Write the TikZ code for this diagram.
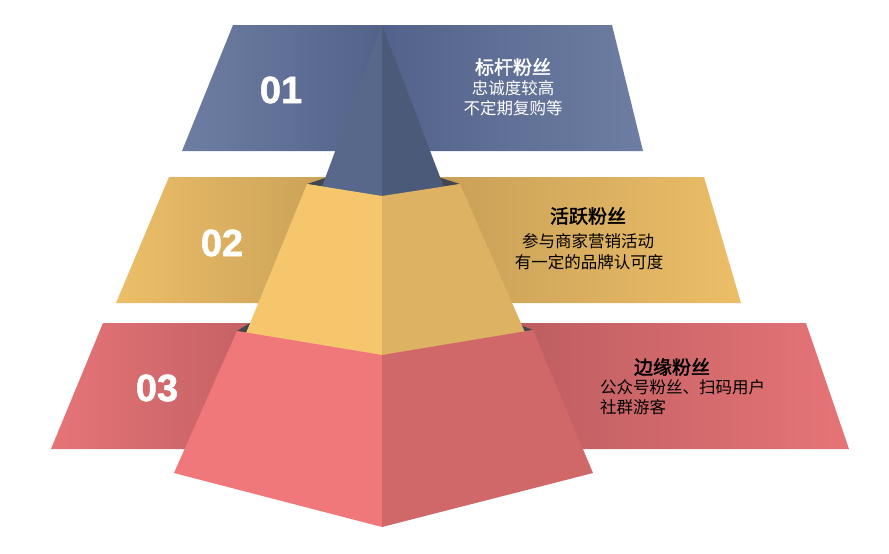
\documentclass[tikz,border=0pt]{standalone}
\usepackage{fontspec}
\newfontfamily\cjk{Noto Sans CJK SC}[AutoFakeBold=2]
\newfontfamily\numfont{Liberation Sans}[BoldFeatures={FakeBold=1.5}]
\definecolor{blueL}{HTML}{6E7EA2}
\definecolor{blueD}{HTML}{52628A}
\definecolor{pyrL}{HTML}{57688B}
\definecolor{pyrR}{HTML}{4B5A79}
\definecolor{yelL}{HTML}{ECBE68}
\definecolor{yelD}{HTML}{C19A54}
\definecolor{fyL}{HTML}{F6C66D}
\definecolor{fyR}{HTML}{DDB262}
\definecolor{redL}{HTML}{E67477}
\definecolor{redD}{HTML}{AD5558}
\definecolor{frL}{HTML}{F0777A}
\definecolor{frR}{HTML}{D06768}
\definecolor{holeC}{HTML}{42464F}
\tikzset{
  num/.style={font=\numfont\bfseries\fontsize{38}{40}\selectfont, text=white, inner sep=0pt},
  ttl/.style={font=\cjk\bfseries\fontsize{19}{22}\selectfont, inner sep=0pt},
  body/.style={font=\cjk\fontsize{16.5}{20}\selectfont, inner sep=0pt},
}
\begin{document}
\begin{tikzpicture}[x=1pt,y=-1pt]
\useasboundingbox (0,0) rectangle (889,554);
\fill[white] (0,0) rectangle (889,554);
% bands
\shade[left color=blueL, right color=blueD] (233,25) -- (382,25) -- (382,151) -- (182,151) -- cycle;
\shade[left color=blueD, right color=blueL] (382,25) -- (612,25) -- (643,151) -- (382,151) -- cycle;
\shade[left color=yelL, right color=yelD] (169,177) -- (382,177) -- (382,303) -- (116,303) -- cycle;
\shade[left color=yelD, right color=yelL] (382,177) -- (704,177) -- (741,303) -- (382,303) -- cycle;
\shade[left color=redL, right color=redD] (103,323) -- (382,323) -- (382,449) -- (51,449) -- cycle;
\shade[left color=redD, right color=redL] (382,323) -- (806,323) -- (849,449) -- (382,449) -- cycle;
% yellow opening
\fill[holeC] (307,184) -- (328,177) -- (438,177) -- (460,184) -- (382,196) -- cycle;
% blue pyramid
\fill[pyrL] (382,25) -- (320,192) -- (382,200) -- cycle;
\fill[pyrR] (382,25) -- (445,190) -- (382,200) -- cycle;
% red opening
\fill[holeC] (237,331) -- (250,323) -- (515,323) -- (533,330) -- (382,355) -- cycle;
% yellow frustum
\fill[fyL] (307,184) -- (382,196) -- (382,360) -- (244,338) -- cycle;
\fill[fyR] (382,196) -- (460,184) -- (527,337) -- (382,360) -- cycle;
% red frustum
\fill[frL] (237,331) -- (382,355) -- (382,527) -- (174,473) -- cycle;
\fill[frR] (382,355) -- (533,330) -- (593,473) -- (382,527) -- cycle;
% numbers
\node[num] (n1) at (281,90) {01};
\node[num] (n2) at (222,243) {02};
\node[num] (n3) at (157,388) {03};
% texts
\node[ttl, text=white] (a1) at (513,67) {标杆粉丝};
\node[body, text=white] (a2) at (513,88) {忠诚度较高};
\node[body, text=white] (a3) at (513,108) {不定期复购等};
\node[ttl] (b1) at (588,216) {活跃粉丝};
\node[body] (b2) at (588,241) {参与商家营销活动};
\node[body] (b3) at (589,262) {有一定的品牌认可度};
\node[ttl] (c1) at (672,367) {边缘粉丝};
\node[body, anchor=west] (c2) at (600,387) {公众号粉丝、扫码用户};
\node[body, anchor=west] (c3) at (600,407) {社群游客};
\end{tikzpicture}
\end{document}
